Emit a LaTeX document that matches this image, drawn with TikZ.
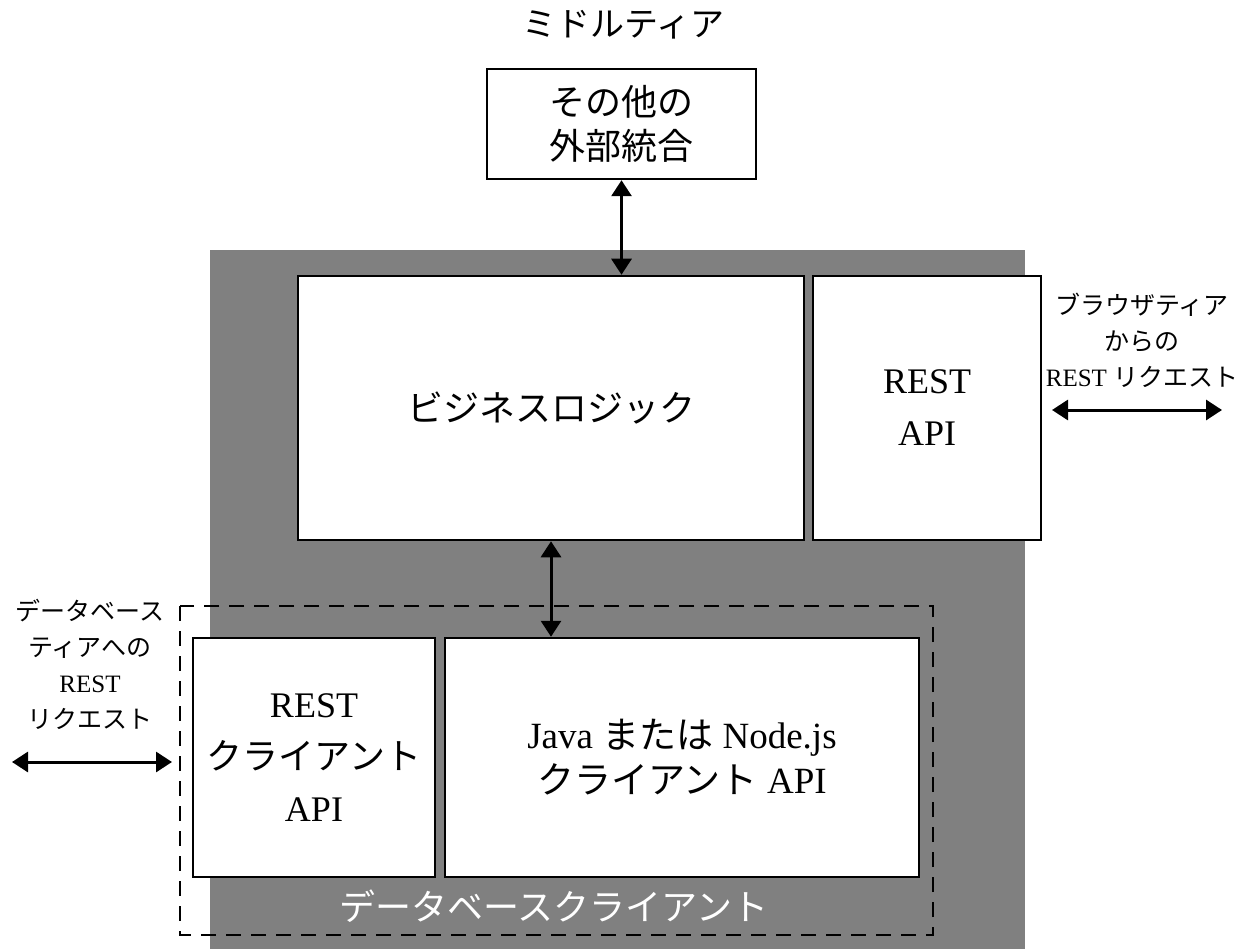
\documentclass[tikz,border=0pt]{standalone}
\usepackage{fontspec}
\setmainfont{Liberation Serif}
\newfontfamily\jp{Noto Sans CJK JP}
\usetikzlibrary{arrows.meta}
\definecolor{tiergray}{HTML}{808080}
\tikzset{
  boxnode/.style={draw=black, fill=white, line width=2.5pt, inner sep=0pt, align=center,
    font=\fontsize{36}{52}\selectfont},
  lbl/.style={align=center, inner sep=0pt, font=\fontsize{25}{36}\selectfont},
  biarrow/.style={line width=3pt, {Triangle[width=20pt,length=16pt]}-{Triangle[width=20pt,length=16pt]}},
}
\begin{document}
\begin{tikzpicture}[x=1pt,y=-1pt]
\useasboundingbox (0,0) rectangle (1255,949);
% middle tier background
\fill[tiergray] (210,250) rectangle (1025,949);
% title
\node[inner sep=0pt, font=\fontsize{34}{40}\selectfont] (title) at (623,25) {\jp ミドルティア};
% other integrations
\node[boxnode, minimum width=269pt, minimum height=110pt] (other) at (621.5,124)
  {{\jp その他の}\\[-8pt]{\jp 外部統合}};
% business logic
\node[boxnode, minimum width=506pt, minimum height=264pt] (biz) at (551,408)
  {\raisebox{-8pt}{\jp ビジネスロジック}};
% REST API
\node[boxnode, minimum width=228pt, minimum height=264pt] (restapi) at (927,408)
  {REST\\API};
% database client dashed region
\draw[line width=2.5pt, dash pattern=on 15pt off 10pt] (180,606) rectangle (933,935);
% REST client API
\node[boxnode, minimum width=242pt, minimum height=239pt] (restcli) at (314,757.5)
  {REST\\{\jp クライアント}\\API};
% Java / Node.js client API
\node[boxnode, minimum width=474pt, minimum height=239pt, font=\fontsize{37}{45}\selectfont] (java) at (682,757.5)
  {Java {\jp または} Node.js\\{\jp クライアント} API};
% database client label
\node[inner sep=0pt, text=white, font=\fontsize{36}{40}\selectfont] (dbclient) at (554,906) {\jp データベースクライアント};
% arrows between boxes
\draw[biarrow] (other.south) -- (other.south |- biz.north);
\draw[biarrow] (biz.south) -- (biz.south |- java.north);
% browser tier
\node[lbl] (browser) at (1142,340) {{\jp ブラウザティア}\\{\jp からの}\\REST {\jp リクエスト}};
\coordinate (bL) at (1052,410);
\coordinate (bR) at (1222,410);
\draw[biarrow] (bL) -- (bR);
% database tier
\node[lbl] (dbtier) at (90,664) {{\jp データベース}\\{\jp ティアへの}\\REST\\{\jp リクエスト}};
\coordinate (dL) at (12,762);
\coordinate (dR) at (172,762);
\draw[biarrow] (dL) -- (dR);
\end{tikzpicture}
\end{document}
